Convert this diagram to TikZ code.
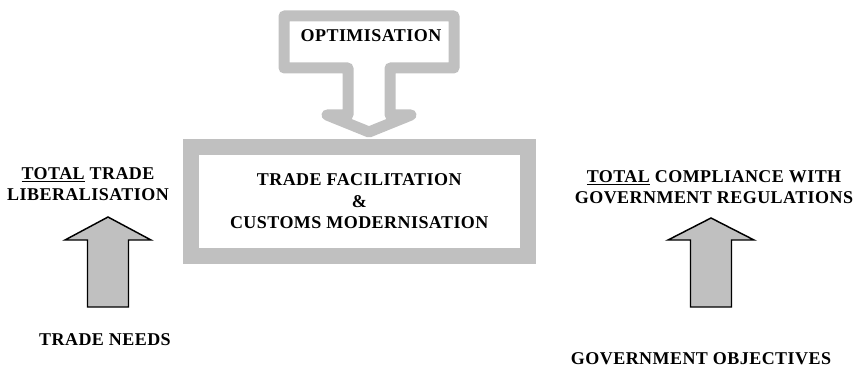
\documentclass[tikz,border=0pt]{standalone}
\usepackage{fontspec}
\setmainfont{Liberation Serif}[BoldFont = {Liberation Serif Bold}, LetterSpace = 2.5]
\usetikzlibrary{positioning}
\definecolor{frameGray}{RGB}{192,192,192}

\begin{document}
\begin{tikzpicture}[
    x = 0.75pt,
    y = -0.75pt,
    caption/.style = {
        font = \bfseries\fontsize{13.5}{16}\selectfont,
        align = center,
        inner sep = 0pt,
    },
    callout/.style = {
        draw = frameGray,
        line width = 8.25pt,
        line join = round,
    },
    upArrow/.style = {
        draw,
        fill = frameGray,
        line width = 1.1pt,
    }
]
\useasboundingbox (0, 0) rectangle (855, 367);

\node [caption] (optimisation) at (371, 36) {OPTIMISATION};
\node [caption, draw = frameGray, line width = 12pt,
       minimum width = 252.4pt, minimum height = 82.1pt]
    (facilitation) at (359.25, 201.25) {TRADE FACILITATION\\ \&\\ CUSTOMS MODERNISATION};

\node [caption] (tradeLib) at (88, 184) {\underline{TOTAL} TRADE\\ LIBERALISATION};
\node [caption] (compliance) at (714, 187) {\underline{TOTAL} COMPLIANCE WITH\\ GOVERNMENT REGULATIONS};
\node [caption] (tradeNeeds) at (105, 340) {TRADE NEEDS};
\node [caption] (govObjectives) at (701, 359) {GOVERNMENT OBJECTIVES};

% optimisation feeding the central box
\draw [callout] (348, 68) -- (284, 68) -- (284, 16) -- (454, 16) -- (454, 68) -- (390, 68)
    -- (390, 115) -- (411, 115) -- (369, 132) -- (327, 115) -- (348, 115) -- cycle;

% block arrows from needs up to goals
\coordinate (tradeTip) at (108, 217);
\coordinate (govTip) at (711, 218);
\draw [upArrow] (tradeTip) -- ++(43, 23) -- ++(-22.5, 0) -- ++(0, 67) -- ++(-41, 0)
    -- ++(0, -67) -- ++(-22.5, 0) -- cycle;
\draw [upArrow] (govTip) -- ++(43, 22) -- ++(-22.5, 0) -- ++(0, 67) -- ++(-41, 0)
    -- ++(0, -67) -- ++(-22.5, 0) -- cycle;
\end{tikzpicture}
\end{document}
